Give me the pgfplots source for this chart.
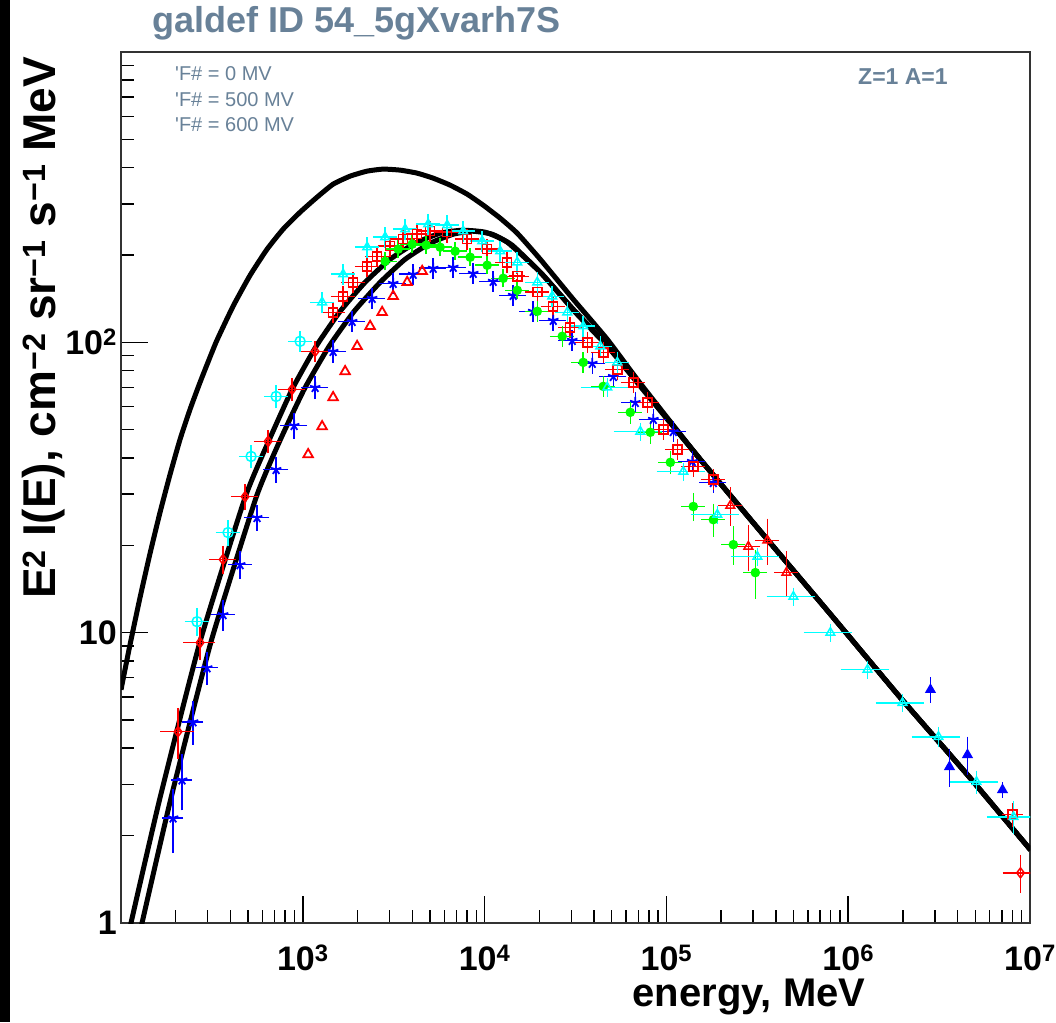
\documentclass[border=0pt]{standalone}
\usepackage{fontspec}
\setmainfont{Liberation Sans}
\usepackage{graphicx}
\usepackage{pgfplots}
\pgfplotsset{compat=1.18}
\definecolor{rootblue}{RGB}{104,129,152}
\definecolor{rcyan}{RGB}{0,255,255}
\definecolor{rgreen}{RGB}{0,255,0}
\definecolor{rred}{RGB}{255,0,0}
\definecolor{rblue}{RGB}{0,0,255}
\pgfplotsset{ebar/.style={error bars/.cd, x dir=both, y dir=both, x explicit relative, y explicit relative}}
\begin{document}
\begin{tikzpicture}[x=1pt,y=1pt]
\useasboundingbox (0,0) rectangle (1056,1022);
\fill[white] (0,0) rectangle (1056,1022);
\fill[black] (0,0) rectangle (10,1022);
\begin{axis}[
  at={(121pt,99pt)}, anchor=south west, scale only axis, width=909pt, height=871pt,
  xmode=log, ymode=log, xmin=100, xmax=1e7, ymin=1, ymax=1000,
  xtick={100,1000,10000,100000,1000000,10000000},
  xticklabels={,10\textsuperscript{3},10\textsuperscript{4},10\textsuperscript{5},10\textsuperscript{6},10\textsuperscript{7}},
  ytick={1,10,100,1000},
  yticklabels={1,10,10\textsuperscript{2},},
  tick align=inside, xtick pos=bottom, ytick pos=left,
  major tick length=27pt, minor tick length=13pt,
  tick style={black, line width=1.5pt},
  axis line style={line width=2pt, black!80},
  ticklabel style={font=\fontsize{34}{34}\selectfont\bfseries, inner sep=0pt},
  xticklabel style={yshift=-22pt},
  yticklabel style={xshift=-4pt},
  error bars/error bar style={line width=1.5pt},
  error bars/error mark options={line width=1.5pt, mark size=4pt},
]
% model curves
\addplot[black, line width=5pt, smooth, tension=0.3] table[row sep=\\]{
x y\\ 100 6.36\\ 112.1 9.09\\ 127.2 13.20\\ 144.4 18.73\\ 163.9 25.94\\ 186.1 35.06\\ 211.2 46.30\\ 239.7 58.75\\ 272.1 72.8\\ 333.2 100\\ 413.4 133.1\\ 512.9 170.2\\ 636.1 209.3\\ 779.2 245.3\\ 966.4 280.7\\ 1198 316.2\\ 1468 350.6\\ 1821 373.6\\ 2259 388.8\\ 2767 395.1\\ 3432 391.9\\ 4256 382.6\\ 5213 367.7\\ 6466 347.8\\ 8022 323.8\\ 9825 296.8\\ 12180 267.7\\ 15115 237.6\\ 20230 193.3\\ 30730 140.7\\ 47290 102.4\\ 71860 72.2\\ 153700 39.5\\ 359200 20.93\\ 828900 11.26\\ 1938000 5.968\\ 4529000 3.238\\ 10065000 1.785\\
};
\addplot[black, line width=5pt, smooth, tension=0.3] table[row sep=\\]{
x y\\ 103.9 0.7454\\ 113.5 1.0\\ 163.9 2.698\\ 272.1 9.31\\ 481.3 29.21\\ 644.2 45.2\\ 873.2 68.85\\ 1184 96.9\\ 1605 127.9\\ 2202 161.0\\ 3023 193.3\\ 4150 219.5\\ 5697 237.6\\ 7530 243.3\\ 10080 239.5\\ 13320 221.2\\ 20230 174.3\\ 30730 130.0\\ 47290 97.7\\ 71860 71.06\\ 153700 39.5\\ 359200 20.93\\ 828900 11.26\\ 1938000 5.968\\ 4529000 3.238\\ 10065000 1.785\\
};
\addplot[black, line width=5pt, smooth, tension=0.3] table[row sep=\\]{
x y\\ 117.9 0.7454\\ 130.5 1.0\\ 188.5 2.698\\ 312.8 9.31\\ 553.4 29.21\\ 740.6 45.2\\ 1017 68.85\\ 1395 96.9\\ 1916 127.9\\ 2664 161.0\\ 3656 193.3\\ 5019 219.5\\ 6719 235.7\\ 8548 241.4\\ 11010 235.7\\ 14190 216.0\\ 21010 170.2\\ 31520 126.9\\ 47880 96.1\\ 71860 70.5\\ 153700 39.5\\ 359200 20.93\\ 828900 11.26\\ 1938000 5.968\\ 4529000 3.238\\ 10065000 1.785\\
};
% red crowns (open triangles, no error bars)
\addplot[only marks, rred, mark=triangle, mark size=5.5pt, line width=1.8pt] table[row sep=\\]{
x y\\ 1070 41.1\\ 1277 51.3\\ 1468 64.6\\ 1709 79.4\\ 1990 96.9\\ 2346 113.6\\ 2731 126.9\\ 3141 144.1\\ 3750 161.0\\ 4536 175.7\\
};
% blue open stars
\addplot[only marks, rblue, mark=star, mark size=5.5pt, line width=1.8pt, ebar] table[x=x,y=y,x error=ex,y error=ey,row sep=\\]{
x y ex ey\\ 193.3 2.302 0.08 0.22\\ 216.6 3.112 0.08 0.19\\ 249.0 4.933 0.08 0.14\\ 297.4 7.572 0.09 0.10\\ 364.1 11.54 0.10 0.09\\ 451.8 17.16 0.10 0.08\\ 560.3 24.93 0.11 0.07\\ 713.0 36.49 0.11 0.07\\ 896.1 51.73 0.12 0.07\\ 1169 69.96 0.12 0.06\\ 1468 93.1 0.12 0.06\\ 1868 118.1 0.12 0.05\\ 2406 141.8 0.12 0.05\\ 3141 159.7 0.12 0.05\\ 4046 171.6 0.12 0.05\\ 5213 180.0 0.12 0.05\\ 6719 181.4 0.12 0.05\\ 8656 172.9 0.12 0.05\\ 11150 162.3 0.12 0.05\\ 14370 145.2 0.12 0.05\\ 18510 127.9 0.12 0.05\\ 23850 119.1 0.12 0.05\\ 30340 101.6 0.12 0.05\\ 39100 84.7 0.12 0.05\\ 51040 76.3 0.12 0.05\\ 67430 62.1 0.12 0.05\\ 84720 54.3 0.12 0.05\\ 109100 49.3 0.12 0.05\\ 138800 38.9 0.12 0.05\\ 181200 32.9 0.12 0.05\\
};
% red low energy
\addplot[only marks, rred, mark=diamond, mark size=5pt, line width=1.5pt, ebar] table[x=x,y=y,x error=ex,y error=ey,row sep=\\]{
x y ex ey\\ 205.9 4.56 0.16 0.17\\ 272.2 9.24 0.15 0.10\\ 364.2 17.86 0.12 0.08\\ 481.3 29.4 0.12 0.07\\ 644.2 45.6 0.12 0.06\\ 873.2 68.9 0.12 0.06\\ 1169 93.1 0.12 0.05\\
};
% red ridge squares
\addplot[only marks, rred, mark=square, mark size=4.5pt, line width=1.5pt, ebar] table[x=x,y=y,x error=ex,y error=ey,row sep=\\]{
x y ex ey\\ 1468 126.9 0.1 0.05\\ 1667 144.1 0.1 0.05\\ 1891 161.0 0.1 0.05\\ 2259 182.8 0.1 0.05\\ 2564 197.9 0.1 0.05\\ 3023 214.3 0.1 0.05\\ 3564 226.6 0.1 0.05\\ 4256 235.7 0.1 0.05\\ 5019 241.4 0.1 0.05\\ 6226 239.5 0.1 0.05\\ 8020 226.6 0.1 0.05\\ 10330 209.3 0.1 0.05\\ 13320 188.7 0.1 0.05\\ 15120 168.9 0.1 0.05\\ 19480 148.8 0.1 0.05\\ 23850 133.1 0.1 0.05\\ 29580 112.6 0.1 0.05\\ 36700 100 0.1 0.05\\ 44940 92.4 0.1 0.05\\ 53690 80.7 0.1 0.05\\ 65730 72.8 0.1 0.05\\ 78520 62.1 0.1 0.05\\ 96140 50.1 0.1 0.05\\ 114800 42.8 0.1 0.05\\ 140600 37.4 0.1 0.05\\ 181200 33.7 0.1 0.05\\
};
% red mid-high triangles
\addplot[only marks, rred, mark=triangle, mark size=5pt, line width=1.5pt, ebar] table[x=x,y=y,x error=ex,y error=ey,row sep=\\]{
x y ex ey\\ 224700 27.4 0.1 0.12\\ 282300 19.8 0.1 0.15\\ 359200 20.8 0.1 0.15\\ 457000 16.1 0.1 0.15\\
};
% red high energy
\addplot[only marks, rred, mark=square, mark size=4.5pt, line width=1.5pt, ebar] table[x=x,y=y,x error=ex,y error=ey,row sep=\\]{
x y ex ey\\ 8011000 2.36 0.08 0.06\\
};
\addplot[only marks, rred, mark=diamond, mark size=5pt, line width=1.5pt, ebar] table[x=x,y=y,x error=ex,y error=ey,row sep=\\]{
x y ex ey\\ 8865000 1.488 0.16 0.12\\
};
% green
\addplot[only marks, rgreen, mark=*, mark size=4pt, line width=1.5pt, ebar] table[x=x,y=y,x error=ex,y error=ey,row sep=\\]{
x y ex ey\\ 2837 190.2 0.1 0.04\\ 3346 209.3 0.1 0.04\\ 3995 217.7 0.1 0.04\\ 4771 216.0 0.1 0.04\\ 5697 212.6 0.1 0.04\\ 6890 206.0 0.1 0.04\\ 8330 196.4 0.1 0.04\\ 10330 184.3 0.1 0.04\\ 12660 166.2 0.1 0.04\\ 15120 151.1 0.1 0.04\\ 19480 127.9 0.1 0.05\\ 26740 104.9 0.1 0.05\\ 34880 85.3 0.1 0.05\\ 44940 70.5 0.1 0.05\\ 63290 57.4 0.1 0.06\\ 81550 49.0 0.1 0.06\\ 105100 38.6 0.1 0.06\\ 140600 27.2 0.1 0.08\\ 181200 24.5 0.1 0.10\\ 233400 20.1 0.1 0.12\\ 308500 16.1 0.1 0.16\\
};
% cyan circles
\addplot[only marks, rcyan, mark=o, mark size=5pt, line width=1.5pt, ebar] table[x=x,y=y,x error=ex,y error=ey,row sep=\\]{
x y ex ey\\ 262.0 10.91 0.1 0.08\\ 388.1 22.12 0.1 0.07\\ 519.4 40.45 0.1 0.06\\ 713.0 65.1 0.1 0.06\\ 966.4 100.8 0.1 0.05\\
};
% cyan ridge
\addplot[only marks, rcyan, mark=triangle, mark size=5pt, line width=1.5pt, ebar] table[x=x,y=y,x error=ex,y error=ey,row sep=\\]{
x y ex ey\\ 1277 137.4 0.1 0.05\\ 1667 171.6 0.1 0.05\\ 2259 212.6 0.1 0.05\\ 2837 230.2 0.1 0.05\\ 3656 245.3 0.1 0.05\\ 4893 255.3 0.1 0.05\\ 6226 253.2 0.1 0.05\\ 7624 241.4 0.1 0.05\\ 9700 223.0 0.1 0.05\\ 12180 206.0 0.1 0.05\\ 15120 188.7 0.1 0.05\\ 19480 161.0 0.1 0.05\\ 23550 144.1 0.1 0.05\\ 28490 126.9 0.1 0.05\\ 34880 113.6 0.1 0.05\\ 43270 96.9 0.1 0.05\\ 53690 85.3 0.1 0.05\\
};
% cyan high energy triangles
\addplot[only marks, rcyan, mark=triangle, mark size=5pt, line width=1.5pt, ebar] table[x=x,y=y,x error=ex,y error=ey,row sep=\\]{
x y ex ey\\ 47270 69.96 0.25 0.04\\ 71860 49.3 0.25 0.04\\ 123900 35.9 0.25 0.04\\ 190500 25.5 0.25 0.04\\ 316500 18.28 0.25 0.04\\ 499400 13.31 0.25 0.04\\ 798000 10.0 0.25 0.04\\ 1276000 7.455 0.25 0.04\\ 1988000 5.735 0.25 0.04\\ 3136000 4.379 0.25 0.05\\ 5077000 3.063 0.25 0.06\\ 8114000 2.320 0.25 0.10\\
};
% blue filled triangles
\addplot[only marks, rblue, mark=triangle*, mark size=5pt, line width=1.5pt, ebar] table[x=x,y=y,x error=ex,y error=ey,row sep=\\]{
x y ex ey\\ 2834000 6.36 0 0.07\\ 3606000 3.451 0 0.12\\ 4529000 3.796 0 0.12\\ 7057000 2.874 0 0.03\\
};
\end{axis}
\node[anchor=base west, font=\fontsize{36}{36}\selectfont\bfseries, text=rootblue, inner sep=0pt] at (152,989) {galdef ID 54\_5gXvarh7S};
\node[anchor=base west, font=\fontsize{20}{20}\selectfont, text=rootblue, inner sep=0pt] at (175,941) {\textquotesingle F\# = 0 MV};
\node[anchor=base west, font=\fontsize{20}{20}\selectfont, text=rootblue, inner sep=0pt] at (175,915) {\textquotesingle F\# = 500 MV};
\node[anchor=base west, font=\fontsize{20}{20}\selectfont, text=rootblue, inner sep=0pt] at (175,890) {\textquotesingle F\# = 600 MV};
\node[anchor=base west, font=\fontsize{23}{23}\selectfont\bfseries, text=rootblue, inner sep=0pt] at (858,937) {Z=1 A=1};
\node[anchor=base, font=\fontsize{40}{40}\selectfont\bfseries, inner sep=0pt] at (749,16) {energy, MeV};
\node[anchor=base, rotate=90, font=\fontsize{46}{46}\selectfont\bfseries, inner sep=0pt] at (55,694) {E\textsuperscript{2} I(E), cm\textsuperscript{−2} sr\textsuperscript{−1} s\textsuperscript{−1} MeV};
\end{tikzpicture}
\end{document}
